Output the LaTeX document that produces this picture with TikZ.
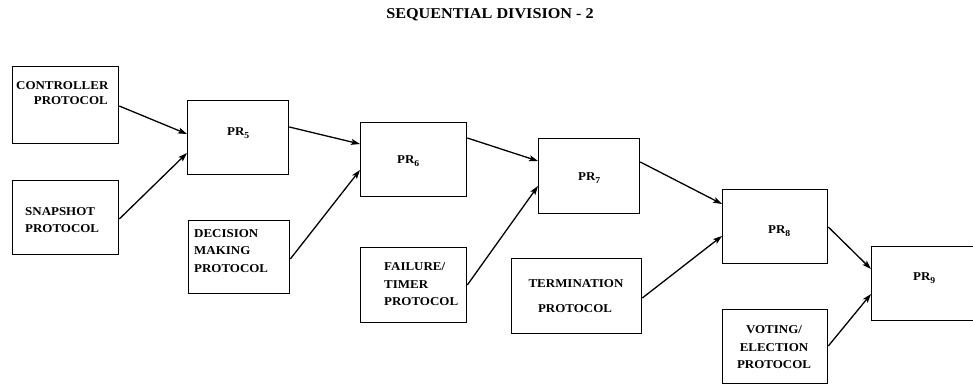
\documentclass[tikz,border=0pt]{standalone}
\usepackage{fontspec}
\usetikzlibrary{arrows.meta}
\newfontfamily\boxfont[FakeStretch=1.08]{Liberation Serif}
\newcommand\prsub[1]{PR\raisebox{-3.5pt}{\fontsize{9}{9}\selectfont #1}}
\begin{document}
\begin{tikzpicture}[x=1pt,y=-1pt,
  blk/.style={draw, line width=1.3pt, inner sep=0pt, anchor=north west},
  lbl/.style={font=\boxfont\bfseries\fontsize{12}{12}\selectfont, inner sep=0pt, anchor=base west},
  lblc/.style={lbl, anchor=base},
  lble/.style={lbl, anchor=base east},
  arr/.style={-{Stealth[length=9pt,width=6pt,inset=2pt]}, line width=1.3pt}]
\useasboundingbox (0,0) rectangle (973,385);

% title
\node[font=\boxfont\bfseries\fontsize{15}{15}\selectfont, inner sep=0pt, anchor=base] (title) at (490,19) {SEQUENTIAL DIVISION - 2};

% boxes
\node[blk, minimum width=106pt, minimum height=77pt] (ctl)  at (12,66)  {};
\node[blk, minimum width=106pt, minimum height=74pt] (snap) at (12,180) {};
\node[blk, minimum width=101pt, minimum height=74pt] (pr5)  at (187,100) {};
\node[blk, minimum width=101pt, minimum height=73pt] (dec)  at (188,220) {};
\node[blk, minimum width=106pt, minimum height=74pt] (pr6)  at (360,122) {};
\node[blk, minimum width=106pt, minimum height=75pt] (fail) at (360,247) {};
\node[blk, minimum width=101pt, minimum height=75pt] (pr7)  at (538,138) {};
\node[blk, minimum width=130pt, minimum height=75pt] (term) at (511,258) {};
\node[blk, minimum width=105pt, minimum height=74pt] (pr8)  at (722,189) {};
\node[blk, minimum width=105pt, minimum height=74pt] (vote) at (722,309) {};
\node[blk, minimum width=106pt, minimum height=74pt] (pr9)  at (871,246) {};

% box texts
\node[lbl]  (t1a) at (16,90)  {CONTROLLER};
\node[lble] (t1b) at (108,105) {PROTOCOL};
\node[lbl]  (t2a) at (25,215) {SNAPSHOT};
\node[lbl]  (t2b) at (25,232) {PROTOCOL};
\node[lbl]  (t3a) at (194,237) {DECISION};
\node[lbl]  (t3b) at (194,254) {MAKING};
\node[lbl]  (t3c) at (194,272) {PROTOCOL};
\node[lbl]  (t4a) at (384,270) {FAILURE/};
\node[lbl]  (t4b) at (384,288) {TIMER};
\node[lbl]  (t4c) at (384,305) {PROTOCOL};
\node[lblc] (t5a) at (576,287) {TERMINATION};
\node[lblc] (t5b) at (575,312) {PROTOCOL};
\node[lblc] (t6a) at (774,333) {VOTING/};
\node[lblc] (t6b) at (774,351) {ELECTION};
\node[lblc] (t6c) at (774,368) {PROTOCOL};

\node[lbl] (p5) at (227,135) {\prsub{5}};
\node[lbl] (p6) at (397,163) {\prsub{6}};
\node[lbl] (p7) at (578,180) {\prsub{7}};
\node[lbl] (p8) at (768,233) {\prsub{8}};
\node[lbl] (p9) at (913,280) {\prsub{9}};

% connectors
\draw[arr] ([yshift=-40pt]ctl.north east)  -- ([yshift=-34pt]pr5.north west);
\draw[arr] ([yshift=-39pt]snap.north east) -- ([yshift=-53pt]pr5.north west);
\draw[arr] ([yshift=-27pt]pr5.north east)  -- ([yshift=-22pt]pr6.north west);
\draw[arr] ([yshift=-39pt]dec.north east)  -- ([yshift=-48pt]pr6.north west);
\draw[arr] ([yshift=-16pt]pr6.north east)  -- ([yshift=-23pt]pr7.north west);
\draw[arr] ([yshift=-38pt]fail.north east) -- ([yshift=-48pt]pr7.north west);
\draw[arr] ([yshift=-24pt]pr7.north east)  -- ([yshift=-15pt]pr8.north west);
\draw[arr] ([yshift=-40pt]term.north east) -- ([yshift=-47pt]pr8.north west);
\draw[arr] ([yshift=-38pt]pr8.north east)  -- ([yshift=-23pt]pr9.north west);
\draw[arr] ([yshift=-37pt]vote.north east) -- ([yshift=-48pt]pr9.north west);
\end{tikzpicture}
\end{document}
